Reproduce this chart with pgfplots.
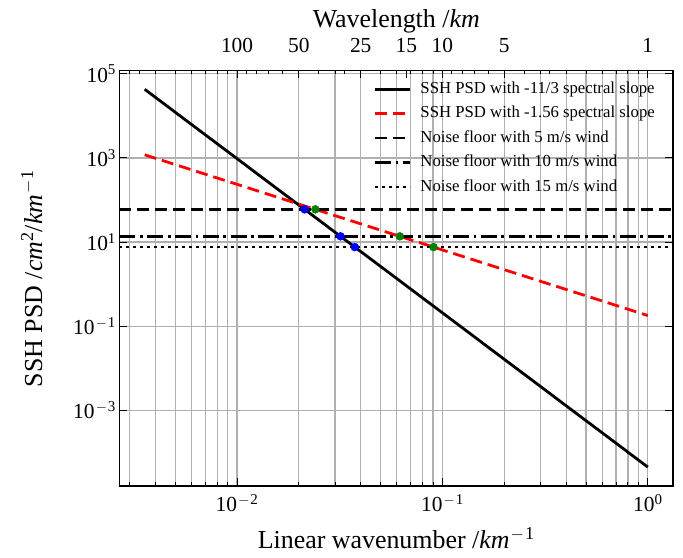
\documentclass[border=0pt]{standalone}
\usepackage{pgfplots}
\pgfplotsset{compat=1.18}
\usepackage{fontspec}
\setmainfont{Liberation Serif}
\definecolor{gridgray}{RGB}{176,176,176}
\definecolor{mplgreen}{RGB}{0,128,0}
\definecolor{mplblue}{RGB}{0,0,255}
\newcommand{\tfont}{\fontsize{21.5}{25}\selectfont}
\newcommand{\lfont}{\fontsize{26}{30}\selectfont}
\newcommand{\gfont}{\fontsize{16.8}{19}\selectfont}
\newcommand{\ms}{\kern1.2bp$-$\kern1bp}

\pgfplotstableread{
k y
0.00355 42920
0.01 962.4
0.1 0.2074
1 4.467e-5
}\blackline
\pgfplotstableread{
k y
0.00355 1187.5
0.01 236.0
0.1 6.501
1 0.1791
}\redline

\begin{document}
\begin{tikzpicture}
\begin{axis}[
  name=main,
  scale only axis, width=553.5bp, height=415.5bp,
  xmode=log, ymode=log,
  xmin=0.002676, xmax=1.326, ymin=1.585e-5, ymax=1.202e5,
  xtick={0.01,0.1,1},
  xticklabels={10\textsuperscript{\ms2},10\textsuperscript{\ms1},10\textsuperscript{0}},
  minor xtick={0.003,0.004,0.005,0.006,0.007,0.008,0.009,0.02,0.03,0.04,0.05,0.06,0.07,0.08,0.09,0.2,0.3,0.4,0.5,0.6,0.7,0.8,0.9},
  ytick={1e-3,1e-1,1e1,1e3,1e5},
  yticklabels={10\textsuperscript{\ms3},10\textsuperscript{\ms1},10\textsuperscript{1},10\textsuperscript{3},10\textsuperscript{5}},
  yminorticks=false,
  grid=both,
  major grid style={gridgray, line width=1.2bp},
  minor grid style={gridgray, line width=1.2bp},
  tick align=inside,
  major tick length=8bp, minor tick length=4bp,
  tick style={black, line width=1bp},
  axis line style={line width=1.3bp},
  ticklabel style={font=\tfont},
  xticklabel style={yshift=-5bp},
  label style={font=\lfont},
  xlabel={Linear wavenumber /\textit{km}\textsuperscript{\ms1}},
  ylabel={SSH PSD /\textit{cm}\textsuperscript{2}/\textit{km}\textsuperscript{\ms1}},
  xlabel style={yshift=-8bp},
  ylabel style={yshift=24bp},
  legend style={draw=none, fill=none, at={(1,1)}, anchor=north east,
    xshift=-14bp, yshift=-8bp, font=\gfont, row sep=7.5bp,
    nodes={inner sep=1bp, text height=11.5bp, text depth=3.5bp},
    /tikz/every odd column/.append style={column sep=8bp}},
  legend cell align=left,
  legend image code/.code={\draw[#1] (0bp,0bp) -- (35bp,0bp);},
]
\addplot[black, line width=2.8bp] table[x=k,y=y] {\blackline};
\addlegendentry{SSH PSD with -11/3 spectral slope}
\addplot[red, line width=2.8bp, dash pattern=on 12bp off 6bp] table[x=k,y=y] {\redline};
\addlegendentry{SSH PSD with -1.56 spectral slope}
\addplot[black, line width=2.6bp, dash pattern=on 12bp off 6bp] coordinates {(0.002676,60) (1.326,60)};
\addlegendentry{Noise floor with 5 m/s wind}
\addplot[black, line width=2.6bp, dash pattern=on 16bp off 4.5bp on 2.8bp off 4.5bp] coordinates {(0.002676,13.7) (1.326,13.7)};
\addlegendentry{Noise floor with 10 m/s wind}
\addplot[black, line width=2.6bp, dash pattern=on 2.8bp off 4.2bp] coordinates {(0.002676,7.6) (1.326,7.6)};
\addlegendentry{Noise floor with 15 m/s wind}
\addplot[only marks, mark=*, mark size=4bp, mplblue, forget plot] coordinates {(0.02132,60) (0.03189,13.7) (0.03745,7.6)};
\addplot[only marks, mark=*, mark size=4bp, mplgreen, forget plot] coordinates {(0.02406,60) (0.06202,13.7) (0.09047,7.6)};
\end{axis}
\begin{axis}[
  scale only axis, width=553.5bp, height=415.5bp,
  xmode=log, ymode=log,
  xmin=0.002676, xmax=1.326, ymin=1.585e-5, ymax=1.202e5,
  axis x line*=top, axis y line=none,
  xtick={0.01,0.02,0.04,0.0666667,0.1,0.2,1},
  xticklabels={100,50,25,15,10,5,1},
  minor xtick={0.0033333,0.005,0.0111111,0.0125,0.0142857,0.0166667,0.025,0.0333333,0.05,0.1111111,0.125,0.1428571,0.1666667,0.25,0.3333333,0.5},
  tick align=inside,
  major tick length=8bp, minor tick length=4bp,
  tick style={black, line width=1bp},
  axis line style={line width=1.3bp},
  ticklabel style={font=\tfont},
  xticklabel style={yshift=14bp},
  label style={font=\lfont},
  xlabel={Wavelength /\textit{km}},
  xlabel style={yshift=-1bp},
]
\end{axis}
\path (main.south west) ++(-119.5bp,-72bp) rectangle ++(683bp,558bp);
\end{tikzpicture}
\end{document}
